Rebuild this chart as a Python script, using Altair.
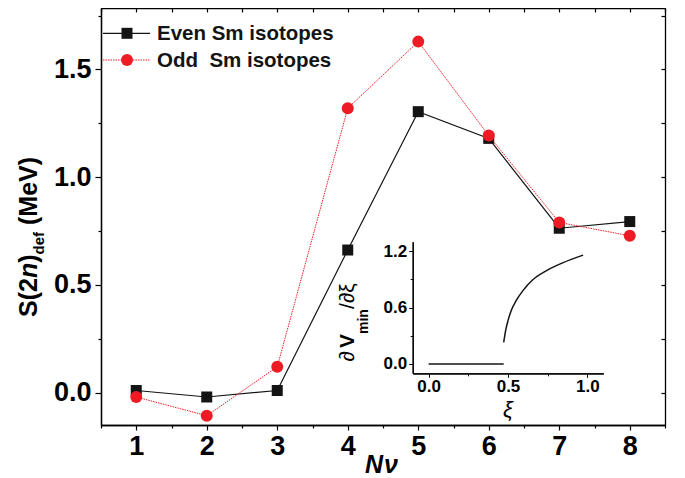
import altair as alt
import pandas as pd

# ---- data ----
N = [1, 2, 3, 4, 5, 6, 7, 8]
even = [0.01, -0.02, 0.01, 0.662, 1.304, 1.18, 0.763, 0.794]
odd = [-0.02, -0.107, 0.12, 1.32, 1.629, 1.193, 0.79, 0.728]
series_labels = ["Even Sm isotopes", "Odd\u00a0 Sm isotopes"]

xi_flat = [0.0, 0.473]
v_flat = [0.0, 0.0]
xi_curve = [0.473, 0.485, 0.5, 0.521, 0.552, 0.594, 0.656, 0.74, 0.844, 0.973]
v_curve = [0.23, 0.355, 0.46, 0.57, 0.675, 0.78, 0.895, 0.99, 1.075, 1.157]

x_major = [1, 2, 3, 4, 5, 6, 7, 8]
x_minor = [0.5, 1.5, 2.5, 3.5, 4.5, 5.5, 6.5, 7.5, 8.5]
x_frame = [0.5, 1, 1.5, 2, 2.5, 3, 3.5, 4, 4.5, 5, 5.5, 6, 6.5, 7, 7.5, 8, 8.5]
y_major = [0.0, 0.5, 1.0, 1.5]
y_minor = [0.25, 0.75, 1.25, 1.75]
y_frame = [0.0, 0.25, 0.5, 0.75, 1.0, 1.25, 1.5, 1.75]
ix_major = [0.0, 0.5, 1.0]
ix_minor = [0.25, 0.75]
iy_major = [0.0, 0.6, 1.2]
iy_minor = [0.3, 0.9]

FONT = "Liberation Sans"
RED = "#ED1C24"
BLACK = "#141414"
W, H = 564, 417

df = pd.DataFrame({"N": N, "even": even, "odd": odd})
dflat = pd.DataFrame({"xi": xi_flat, "v": v_flat})
dcurve = pd.DataFrame({"xi": xi_curve, "v": v_curve})

xs = alt.Scale(domain=[0.5, 8.5], nice=False, zero=False)
ys = alt.Scale(domain=[-0.15, 1.785], nice=False, zero=False)

ax_common = dict(title=None, grid=False, domainColor="black", tickColor="black",
                 domainWidth=1.3, tickWidth=1.2, labelColor="black", labelFont=FONT,
                 labelFontWeight="bold")

base = alt.Chart(df)
even_line = base.mark_line(color=BLACK, strokeWidth=1.2).encode(
    x=alt.X("N:Q", scale=xs, axis=alt.Axis(orient="bottom", values=x_major, format="d",
                                            tickSize=5, labelFontSize=27, labelPadding=3,
                                            labelFlush=False, **ax_common)),
    y=alt.Y("even:Q", scale=ys, axis=alt.Axis(orient="left", values=y_major, format=".1f",
                                               tickSize=6, labelFontSize=27, labelPadding=4,
                                               labelFlush=False, **ax_common)),
)
even_pts = base.mark_point(shape="square", filled=True, size=121, color=BLACK, opacity=1).encode(
    x=alt.X("N:Q", scale=xs, axis=alt.Axis(orient="bottom", values=x_minor, tickSize=3,
                                            labels=False, **ax_common)),
    y=alt.Y("even:Q", scale=ys, axis=alt.Axis(orient="left", values=y_minor, tickSize=3,
                                               labels=False, **ax_common)),
)
odd_line = base.mark_line(color=RED, strokeWidth=1, strokeDash=[1.5, 1]).encode(
    x=alt.X("N:Q", scale=xs, axis=alt.Axis(orient="bottom", offset=-H, values=x_frame,
                                            tickSize=4, labels=False, **ax_common)),
    y=alt.Y("odd:Q", scale=ys, axis=alt.Axis(orient="left", offset=-W, values=y_frame,
                                              tickSize=4, labels=False, **ax_common)),
)
odd_pts = base.mark_point(shape="circle", filled=True, size=144, color=RED, opacity=1).encode(
    x=alt.X("N:Q", scale=xs, axis=None),
    y=alt.Y("odd:Q", scale=ys, axis=None),
)


def txt(s, x, y, size, weight="bold", style="normal", angle=0, align="left",
        baseline="alphabetic"):
    return alt.Chart(pd.DataFrame({"t": [s]})).mark_text(
        align=align, baseline=baseline, angle=angle, fontSize=size, fontWeight=weight,
        fontStyle=style, font=FONT, color="black"
    ).encode(x=alt.value(x), y=alt.value(y), text="t:N")


def legend_row(i, color, shape, size, dash):
    y = 25.3 + i * 26.7
    d = pd.DataFrame({"s": [series_labels[i]]})
    line = alt.Chart(d).mark_rule(color=color, strokeWidth=1.2 if dash is None else 1,
                                  **({} if dash is None else {"strokeDash": dash})).encode(
        x=alt.value(2), x2=alt.value(49), y=alt.value(y))
    pt = alt.Chart(d).mark_point(shape=shape, filled=True, size=size, color=color, opacity=1).encode(
        x=alt.value(26), y=alt.value(y))
    label = alt.Chart(d).mark_text(align="left", baseline="middle", fontSize=20.5, fontWeight="bold",
                                   font=FONT, color=BLACK).encode(
        x=alt.value(56), y=alt.value(y + 1), text="s:N")
    return line + pt + label


legend = legend_row(0, BLACK, "square", 121, None) + legend_row(1, RED, "circle", 144, [1.5, 1])

# axis titles
ytitle = (
    txt("S(2", -64, 309, 25, angle=270)
    + txt("n", -64, 270, 25, style="italic", angle=270)
    + txt(")", -64, 254.8, 25, angle=270)
    + txt("def", -57, 246.5, 15, angle=270)
    + txt("(MeV)", -64, 217, 25, angle=270)
)
xtitle = txt("N", 264, 465, 25, style="italic") + txt("\u03bd", 283, 465, 25, style="italic")

iytitle = (
    txt("\u2202", 253, 353.7, 21, weight="normal", angle=270)
    + txt("V", 253, 340, 21, angle=270)
    + txt("min", 267, 326, 14, angle=270)
    + txt("/\u2202\u03be", 253, 301, 21, weight="normal", angle=270)
)
ixtitle = txt("\u03be", 407, 409, 22, weight="normal", style="italic", align="center")

main = alt.layer(even_line, even_pts, odd_line, odd_pts, legend, ytitle, xtitle,
                 iytitle, ixtitle).resolve_axis(x="independent", y="independent")

ixs = alt.Scale(domain=[-0.1, 1.1], range=[311.7, 502.3], nice=False, zero=False)
iys = alt.Scale(domain=[-0.1, 1.3], range=[365.3, 233.7], nice=False, zero=False)
iax = dict(title=None, grid=False, domainColor="black", tickColor="black", domainWidth=1.2,
           tickWidth=1, labelColor="black", labelFont=FONT, labelFontWeight="bold")

flat = alt.Chart(dflat).mark_line(color=BLACK, strokeWidth=1.5).encode(
    x=alt.X("xi:Q", scale=ixs, axis=alt.Axis(orient="bottom", offset=-(H - 365.3), values=ix_major,
                                              format=".1f", tickSize=4, labelFontSize=17,
                                              labelPadding=1, labelFlush=False, **iax)),
    y=alt.Y("v:Q", scale=iys, axis=alt.Axis(orient="left", offset=-311.7, values=iy_major,
                                             format=".1f", tickSize=4, labelFontSize=17,
                                             labelPadding=2, labelFlush=False, **iax)),
)
curve = alt.Chart(dcurve).mark_line(color=BLACK, strokeWidth=1.5, interpolate="monotone").encode(
    x=alt.X("xi:Q", scale=ixs, axis=alt.Axis(orient="bottom", offset=-(H - 365.3), values=ix_minor,
                                              tickSize=2.5, labels=False, **iax)),
    y=alt.Y("v:Q", scale=iys, axis=alt.Axis(orient="left", offset=-311.7, values=iy_minor,
                                             tickSize=2.5, labels=False, **iax)),
)
inset = alt.layer(flat, curve).resolve_axis(x="independent", y="independent")

chart = (
    alt.layer(main, inset)
    .resolve_scale(x="independent", y="independent")
    .properties(width=W, height=H, autosize=alt.AutoSizeParams(type="none"),
                padding={"left": 93, "top": 0, "right": 12, "bottom": 53})
    .configure_view(stroke=None)
    .configure(background="white")
)

chart.save("out.html", embed_options={"renderer": "svg", "actions": False})
